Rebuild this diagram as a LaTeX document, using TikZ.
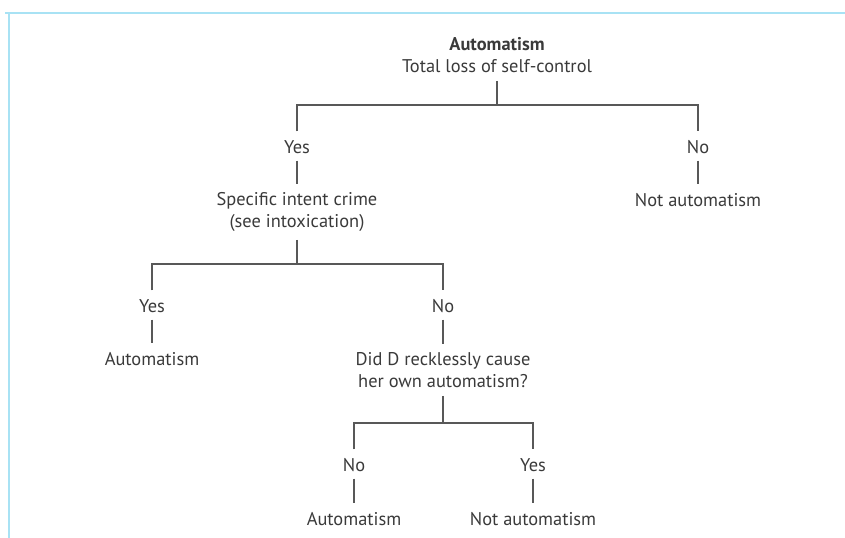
\documentclass[tikz,border=0pt]{standalone}
\usepackage{fontspec}
\setmainfont{PT Sans}
\definecolor{framecol}{HTML}{A8E2F4}
\definecolor{inkcol}{HTML}{3A3A3A}
\begin{document}
\begin{tikzpicture}[x=0.75pt, y=-0.75pt,
    every node/.style={font=\fontsize{13.8}{16.5}\selectfont, text=inkcol, align=center, inner ysep=6pt},
    answer/.style={text height=11.7pt, text depth=0pt, inner ysep=5pt},
    branch/.style={draw=inkcol!85, line width=1.1pt}]
    \useasboundingbox (0,0) rectangle (845,538);

    % Frame
    \draw[framecol, line width=1.5pt] (5,13) -- (845,13);
    \draw[framecol, line width=1.5pt] (9,13) -- (9,538);

    % Level 1
    \node (root) at (497,55) {\textbf{Automatism}\\Total loss of self-control};
    \node[answer] (yesA) at (297,146) {Yes};
    \node[answer] (noA) at (698,146) {No};
    \node (spec) at (297,212) {Specific intent crime\\(see intoxication)};
    \node[answer] (notA) at (698,199) {Not automatism};

    % Level 2
    \node[answer] (yesB) at (152,305) {Yes};
    \node[answer] (noB) at (443,305) {No};
    \node[answer] (autoB) at (152,358) {Automatism};
    \node (did) at (443,370) {Did D recklessly cause\\her own automatism?};

    % Level 3
    \node[answer] (noC) at (354,464) {No};
    \node[answer] (yesC) at (533,464) {Yes};
    \node[answer] (autoC) at (354,518) {Automatism};
    \node[answer] (notC) at (533,518) {Not automatism};

    % Junctions
    \coordinate (j1) at (497,105);
    \coordinate (j2) at (297,264);
    \coordinate (j3) at (443,423);

    % Branches
    \draw[branch] (root) -- (j1);
    \draw[branch] (yesA) |- (j1) -| (noA);
    \draw[branch] (yesA) -- (spec);
    \draw[branch] (noA) -- (notA);

    \draw[branch] (spec) -- (j2);
    \draw[branch] (yesB) |- (j2) -| (noB);
    \draw[branch] (yesB) -- (autoB);
    \draw[branch] (noB) -- (did);

    \draw[branch] (did) -- (j3);
    \draw[branch] (noC) |- (j3) -| (yesC);
    \draw[branch] (noC) -- (autoC);
    \draw[branch] (yesC) -- (notC);
\end{tikzpicture}
\end{document}
